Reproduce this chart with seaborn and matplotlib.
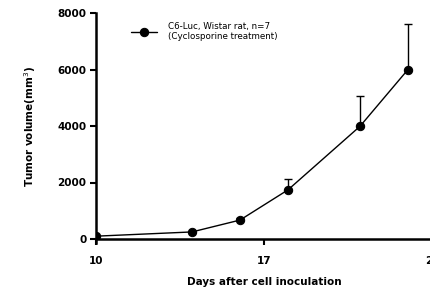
import numpy as np
import pandas as pd
import matplotlib
matplotlib.use("Agg")
import matplotlib.pyplot as plt
import seaborn as sns

# dane
days = [10, 14, 16, 18, 21, 23]
volume = [100, 250, 670, 1740, 3990, 6000]
sem_up = [0, 0, 80, 380, 1070, 1610]

x_ticks = [10, 17, 24]
y_ticks = [0, 2000, 4000, 6000, 8000]
series_label = "C6-Luc, Wistar rat, n=7\n(Cyclosporine treatment)"

sns.set_style("ticks")
plt.rcParams['font.family'] = ['DejaVu Sans']
plt.rcParams['text.color'] = 'black'
plt.rcParams['xtick.color'] = 'black'
plt.rcParams['ytick.color'] = 'black'
plt.rcParams['axes.edgecolor'] = 'black'
plt.rcParams['axes.labelcolor'] = 'black'

df = pd.DataFrame({"day": days, "volume": volume})

fig = plt.figure(figsize=(4.31, 2.89), dpi=100)
ax = fig.add_axes([96 / 431, 50 / 289, 336 / 431, 226 / 289])

ax.errorbar(days, volume, yerr=[np.zeros(len(sem_up)), sem_up], fmt='none',
            ecolor='black', elinewidth=1, capsize=3, capthick=1)
sns.lineplot(data=df, x="day", y="volume", ax=ax, color="black", linewidth=1,
             marker="o", markersize=6, markeredgecolor="black", label=series_label)

ax.set_xlim(10, 24)
ax.set_ylim(0, 8000)
ax.set_xticks(x_ticks)
ax.set_yticks(y_ticks)
ax.tick_params(axis='both', width=1.5, length=4, labelsize=7.5)
ax.tick_params(axis='x', pad=8)
ax.tick_params(axis='y', pad=3)
for lbl in ax.get_xticklabels() + ax.get_yticklabels():
    lbl.set_fontweight('bold')

for side in ['left', 'bottom']:
    ax.spines[side].set_linewidth(1.8)
sns.despine(ax=ax)
ax.spines['left'].set_bounds(-150, 8000)

ax.set_xlabel("Days after cell inoculation", fontsize=7.5, fontweight='bold', labelpad=8)
ax.set_ylabel("Tumor volume(mm$^3$)", fontsize=7.5, fontweight='bold', labelpad=14)

leg = ax.legend(loc='upper left', bbox_to_anchor=(0.08, 0.995), frameon=False,
                fontsize=6.3, handlelength=3.0, handletextpad=1.2)

fig.savefig("out.png", dpi=100)
